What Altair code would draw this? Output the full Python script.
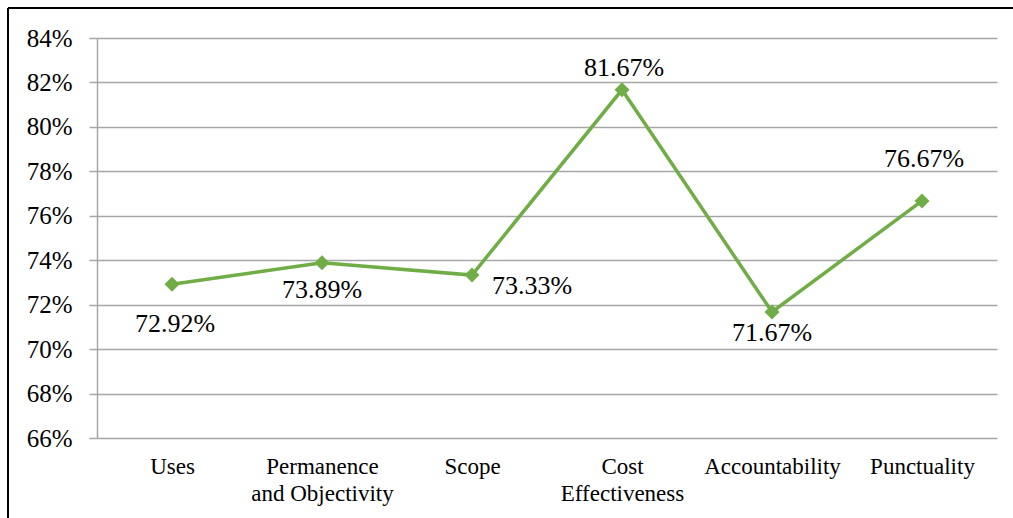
import altair as alt
import pandas as pd

categories = ["Uses", "Permanence\nand Objectivity", "Scope", "Cost\nEffectiveness",
              "Accountability", "Punctuality"]
values = [72.92, 73.89, 73.33, 81.67, 71.67, 76.67]

df = pd.DataFrame({"cat": categories, "val": values})
df["lbl"] = df["val"].map(lambda v: f"{v:.2f}%")

FONT = "Liberation Serif"
GREEN = "#70AD47"
GRID = "#A6A6A6"

x = alt.X("cat:N", sort=categories, title=None,
          scale=alt.Scale(paddingInner=0, paddingOuter=0.0),
          axis=alt.Axis(labelAngle=0, labelExpr="split(datum.label, '\\n')",
                        labelFontSize=23, labelFont=FONT, labelColor="black",
                        labelBaseline="top", labelPadding=17, labelLineHeight=27,
                        ticks=False, domain=False, grid=False))
y = alt.Y("val:Q", title=None,
          scale=alt.Scale(domain=[66, 84], nice=False, zero=False),
          axis=alt.Axis(values=list(range(66, 85, 2)), labelExpr="datum.value + '%'",
                        labelFontSize=25, labelFont=FONT, labelColor="black",
                        labelPadding=17, tickSize=8, tickColor=GRID, tickWidth=1.5,
                        domainColor=GRID, domainWidth=1.5,
                        gridColor=GRID, gridWidth=1.5))

base = alt.Chart(df)

line = base.mark_line(color=GREEN, strokeWidth=3.5).encode(x=x, y=y)
pts = base.mark_point(shape="diamond", filled=True, color=GREEN, size=225, opacity=1).encode(
    x=alt.X("cat:N", sort=categories), y="val:Q")

def lab(i, dx, dy, align="center"):
    return base.transform_filter(alt.datum.cat == categories[i]).mark_text(
        font=FONT, fontSize=26, color="black", align=align, baseline="middle",
        dx=dx, dy=dy).encode(
        x=alt.X("cat:N", sort=categories), y="val:Q", text="lbl:N")

labels = [
    lab(0, 3, 40),
    lab(1, 0, 27),
    lab(2, 20, 11, "left"),
    lab(3, 2, -22),
    lab(4, 0, 21),
    lab(5, 2, -42),
]

frame_l = base.mark_rule(color="black", strokeWidth=2).encode(
    x=alt.value(-89), y=alt.value(-30), y2=alt.value(500))
frame_t = base.mark_rule(color="black", strokeWidth=2).encode(
    x=alt.value(-89), x2=alt.value(930), y=alt.value(-30))

chart = alt.layer(line, pts, *labels, frame_l, frame_t).properties(
    width=900, height=400,
    autosize=alt.AutoSizeParams(type="none"),
    padding={"left": 97, "top": 38, "right": 16, "bottom": 80},
    background="white",
).configure_view(stroke=None)

chart.save("out.html", embed_options={"renderer": "svg", "actions": False})
